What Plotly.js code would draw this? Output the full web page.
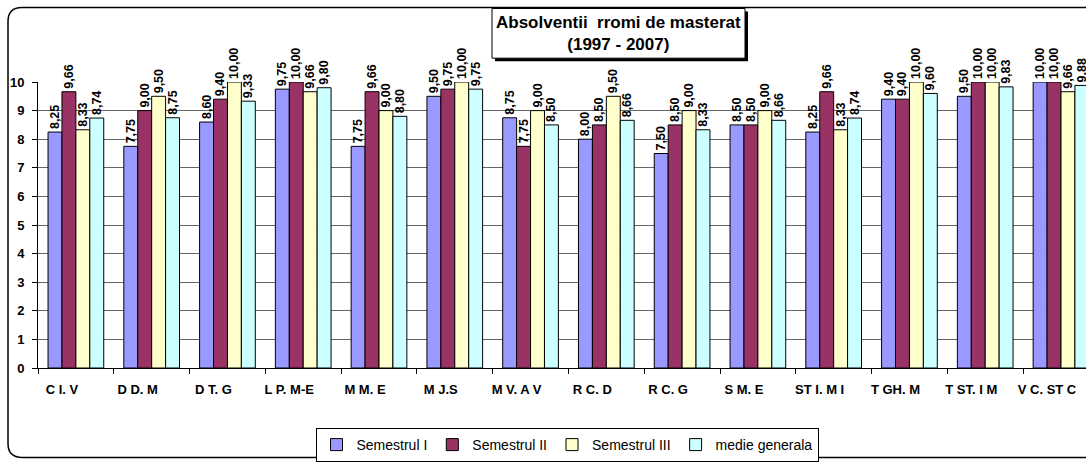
<!DOCTYPE html>
<html>
<head>
<meta charset="utf-8">
<script src="https://cdn.plot.ly/plotly-3.0.1.min.js"></script>
<style>html,body{margin:0;padding:0;background:#fff;}#chart{width:1086px;height:462px;}</style>
</head>
<body>
<div id="chart"></div>
<script>
const categories = ["C I. V","D D. M","D T. G","L P. M-E","M M. E","M J.S","M V. A V","R C. D","R C. G","S M. E","ST I. M I","T GH. M","T ST. I M","V C. ST C"];
const semestrul1 = [8.25,7.75,8.60,9.75,7.75,9.50,8.75,8.00,7.50,8.50,8.25,9.40,9.50,10.00];
const semestrul2 = [9.66,9.00,9.40,10.00,9.66,9.75,7.75,8.50,8.50,8.50,9.66,9.40,10.00,10.00];
const semestrul3 = [8.33,9.50,10.00,9.66,9.00,10.00,9.00,9.50,9.00,9.00,8.33,10.00,10.00,9.66];
const medie = [8.74,8.75,9.33,9.80,8.80,9.75,8.50,8.66,8.33,8.66,8.74,9.60,9.83,9.88];
const seriesNames = ["Semestrul I","Semestrul II","Semestrul III","medie generala"];
const seriesColors = ["#9999FF","#993366","#FFFFCC","#CCFFFF"];
const seriesValues = [semestrul1, semestrul2, semestrul3, medie];

const FONT = "Arial, 'Liberation Sans', sans-serif";
const W = 1086, H = 462, ML = 38, MR = 0, MT = 82, MB = 92;
const PW = W - ML - MR, PH = H - MT - MB;
const px = x => (x - ML) / PW;
const py = y => (H - MB - y) / PH;

const traces = seriesValues.map((vals, i) => ({
  type: 'bar',
  name: seriesNames[i],
  x: categories,
  y: vals,
  marker: {color: seriesColors[i], line: {color: '#000', width: 1}},
  texttemplate: '%{y:.2f}',
  textposition: 'outside',
  textangle: -90,
  constraintext: 'none',
  cliponaxis: false,
  textfont: {family: FONT, size: 12.5, color: '#000', weight: 'bold'},
  hoverinfo: 'x+y+name'
}));

// outer rounded border
const r = 14;
const L = 8, T = 7, R = 1110, B = 460;
const rx = r / PW, ry = r / PH;
const borderPath = `M ${px(L)},${py(T) - ry} L ${px(L)},${py(B) + ry} Q ${px(L)},${py(B)} ${px(L) + rx},${py(B)} L ${px(R)},${py(B)} M ${px(R)},${py(T)} L ${px(L) + rx},${py(T)} Q ${px(L)},${py(T)} ${px(L)},${py(T) - ry}`;

const layout = {
  width: W, height: H,
  margin: {l: ML, r: MR, t: MT, b: MB, pad: 0},
  paper_bgcolor: '#fff', plot_bgcolor: '#fff',
  separators: ',.',
  barmode: 'group',
  bargap: 0.265,
  bargroupgap: 0,
  showlegend: true,
  font: {family: FONT, color: '#000'},
  xaxis: {
    type: 'category',
    range: [-0.5, 13.33],
    showline: true, linecolor: '#000', linewidth: 1,
    ticks: 'outside', tickson: 'boundaries', ticklen: 5, tickcolor: '#000',
    showgrid: false, zeroline: false,
    ticklabelshift: -14,
    ticklabelstandoff: 9,
    tickfont: {family: FONT, size: 13, color: '#000', weight: 'bold'},
    fixedrange: true
  },
  yaxis: {
    range: [0, 10],
    dtick: 1, tick0: 0,
    showline: true, linecolor: '#000', linewidth: 1,
    ticks: 'outside', ticklen: 5, tickcolor: '#000',
    showgrid: true, gridcolor: '#666', gridwidth: 1,
    zeroline: false,
    ticklabelstandoff: 5,
    tickfont: {family: FONT, size: 13, color: '#000', weight: 'bold'},
    fixedrange: true
  },
  legend: {
    orientation: 'h',
    x: px(567), xanchor: 'center',
    y: py(431), yanchor: 'top',
    bordercolor: '#000', borderwidth: 1,
    bgcolor: '#fff',
    font: {family: FONT, size: 14, color: '#000'},
    traceorder: 'normal'
  },
  shapes: [
    {type: 'path', xref: 'paper', yref: 'paper', path: borderPath, line: {color: '#000', width: 1.5}, layer: 'below'},
    {type: 'rect', xref: 'paper', yref: 'paper', x0: px(495), x1: px(748), y0: py(61), y1: py(11), fillcolor: '#000', line: {width: 0}, layer: 'above'},
    {type: 'rect', xref: 'paper', yref: 'paper', x0: px(492), x1: px(745), y0: py(58), y1: py(8), fillcolor: '#fff', line: {color: '#000', width: 1}, layer: 'above'}
  ],
  annotations: [
    {xref: 'paper', yref: 'paper', x: px(618.5), y: py(33), xanchor: 'center', yanchor: 'middle',
     showarrow: false, align: 'center',
     text: '<b>Absolventii\u00a0 rromi de masterat</b><br><b>(1997 - 2007)</b>',
     font: {family: FONT, size: 17, color: '#000'}}
  ]
};

Plotly.newPlot('chart', traces, layout, {displayModeBar: false, staticPlot: true});
</script>
</body>
</html>
